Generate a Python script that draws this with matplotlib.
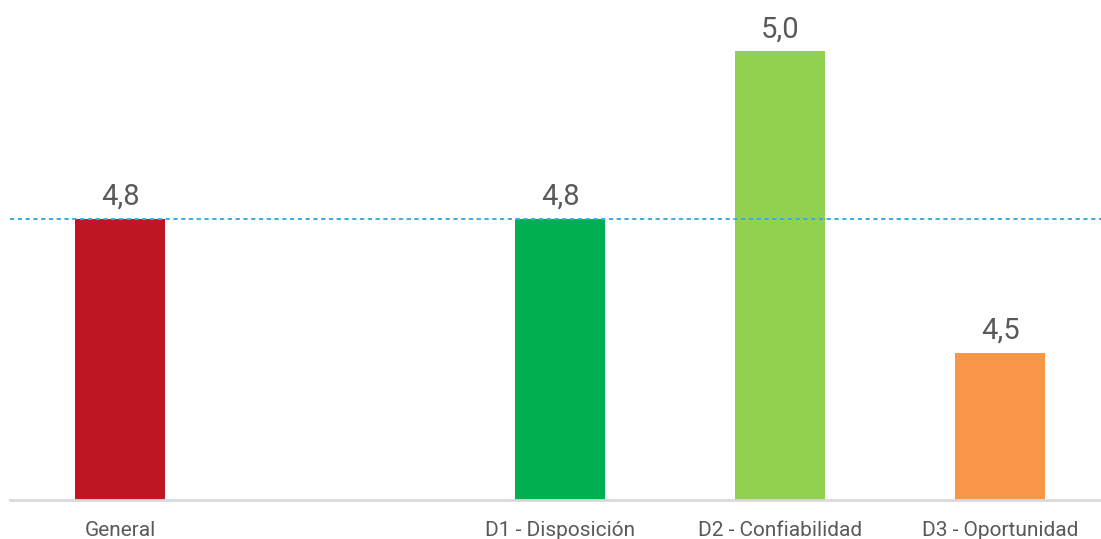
import matplotlib
matplotlib.use("Agg")
import matplotlib.pyplot as plt

# categories (empty slot between General and the dimensions)
categories = ["General", "", "D1 - Disposición", "D2 - Confiabilidad", "D3 - Oportunidad"]
values = [4.75, None, 4.75, 5.0, 4.549]
colors = ["#be1622", None, "#00b050", "#92d050", "#f79646"]
reference = 4.75  # general level, dashed line

plt.rcParams["font.family"] = ["Roboto", "DejaVu Sans"]

fig = plt.figure(figsize=(11.01, 5.39), dpi=100)
ax = fig.add_axes([10 / 1101, 39 / 539, 1100 / 1101, 500 / 539])

for i, (v, c) in enumerate(zip(values, colors)):
    if v is None:
        continue
    ax.bar(i, v, width=0.405, color=c, zorder=2)
    ax.text(i, v + 0.012, f"{v:.1f}".replace(".", ","), ha="center", va="bottom",
            fontsize=21, color="#595959")

ax.axhline(reference, color="#3aaee0", linestyle=(0, (2.2, 1.8)), linewidth=1.4, zorder=3)

ax.set_xlim(-0.5, len(categories) - 0.5)
ax.set_ylim(4.329, 5.077)
ax.set_xticks(range(len(categories)))
ax.set_xticklabels(categories, fontsize=15, color="#595959")
ax.tick_params(axis="x", length=0, pad=15)
ax.set_yticks([])
for s in ["top", "right", "left"]:
    ax.spines[s].set_visible(False)
ax.spines["bottom"].set_color("#d9d9d9")
ax.spines["bottom"].set_linewidth(2)

fig.savefig("out.png", dpi=100)
